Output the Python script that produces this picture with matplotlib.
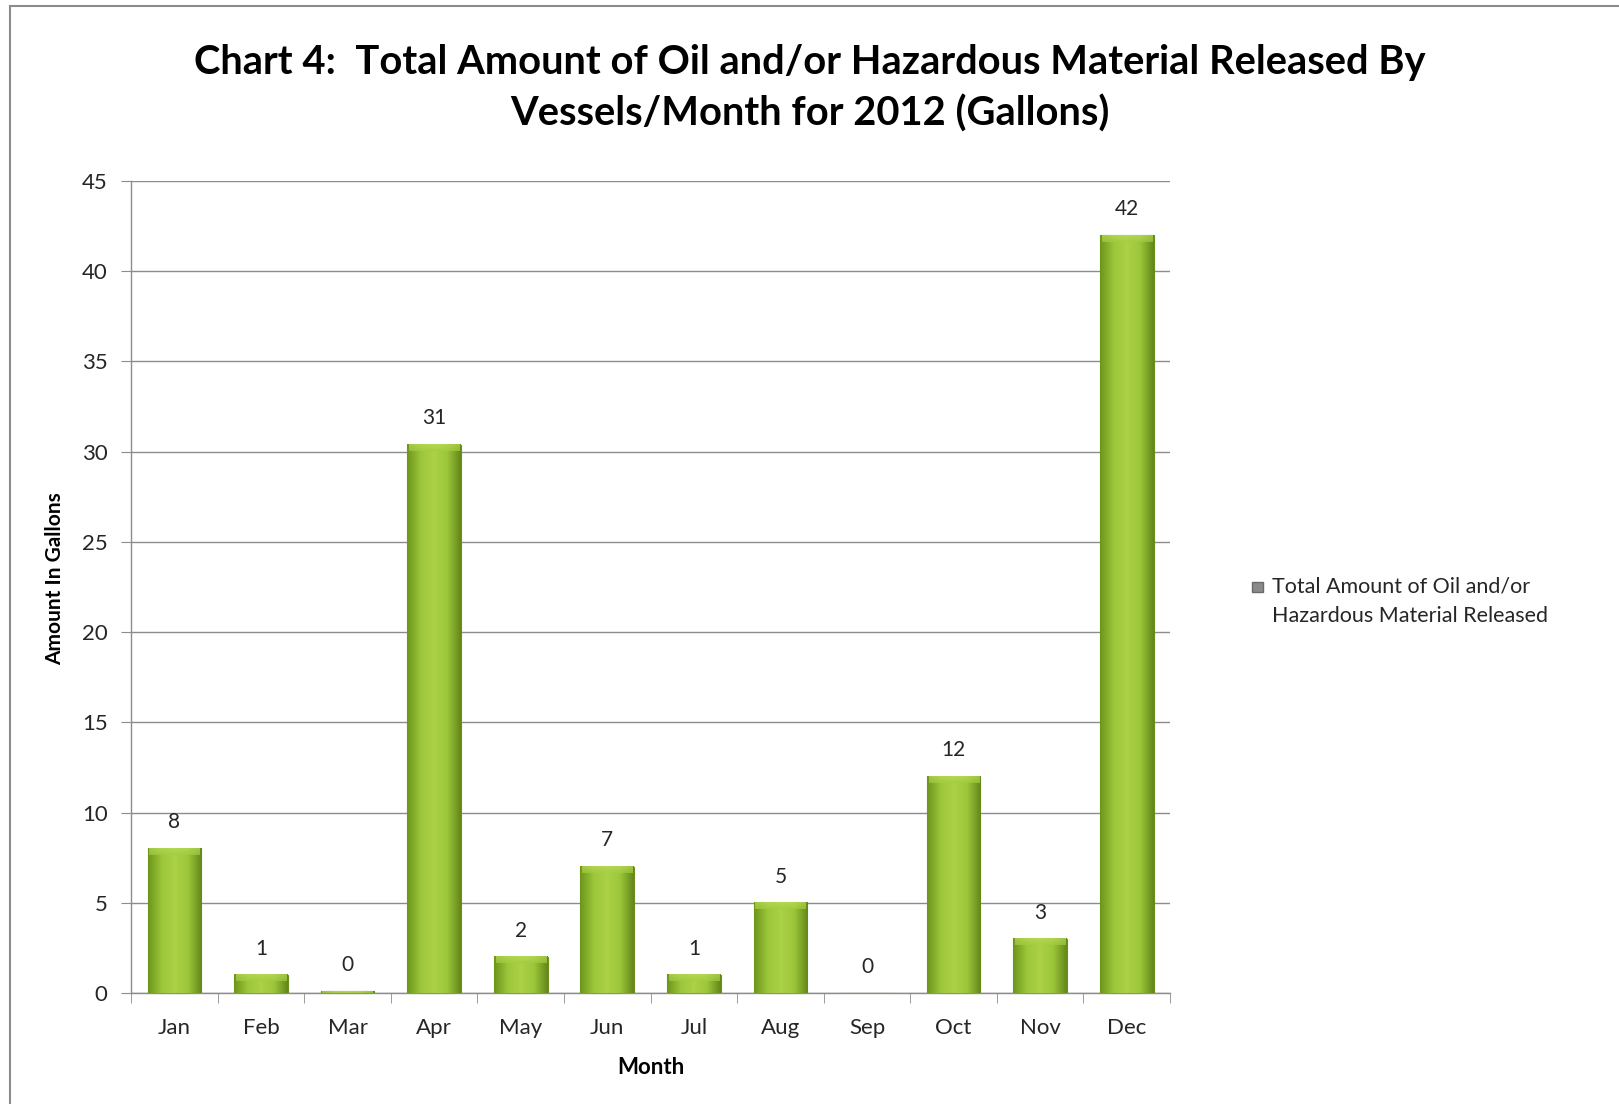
import numpy as np
import matplotlib.pyplot as plt
from matplotlib.patches import Rectangle
from matplotlib.colors import LinearSegmentedColormap

months = ["Jan", "Feb", "Mar", "Apr", "May", "Jun", "Jul", "Aug", "Sep", "Oct", "Nov", "Dec"]
gallons = [8, 1, 0.1, 30.4, 2, 7, 1, 5, 0, 12, 3, 42]
value_labels = ["8", "1", "0", "31", "2", "7", "1", "5", "0", "12", "3", "42"]
yticks = [0, 5, 10, 15, 20, 25, 30, 35, 40, 45]

plt.rcParams["font.family"] = ["Lato", "DejaVu Sans"]

fig = plt.figure(figsize=(16.19, 11.04), dpi=100)
ax = fig.add_axes([0.081, 0.1005, 0.6417, 0.7355])

# frame round the whole chart
fig.patches.append(Rectangle((0.006, -0.05), 1.1, 1.045, transform=fig.transFigure,
                             fill=False, edgecolor="#8c8c8c", linewidth=1.5))

x = np.arange(len(months))
width = 0.62
bars = ax.bar(x, gallons, width=width, color="#92bd30", edgecolor="#6b8f1c", linewidth=0.8, zorder=3)

# horizontal shading: darker edges, lighter middle
shade = LinearSegmentedColormap.from_list("shade", ["#6d961b", "#9cc63a", "#acd247", "#9cc63a", "#64891a"])
grad = np.linspace(0, 1, 64).reshape(1, -1)
cap = LinearSegmentedColormap.from_list("cap", ["#b9dc5a", "#a4cd40"])
for b in bars:
    h = b.get_height()
    if h <= 0:
        continue
    ax.imshow(grad, cmap=shade, aspect="auto", zorder=3.5,
              extent=(b.get_x(), b.get_x() + b.get_width(), 0, h))
    # soft light cap on top
    ax.imshow(np.linspace(0, 1, 16).reshape(-1, 1), cmap=cap, alpha=0.7,
              aspect="auto", zorder=3.6,
              extent=(b.get_x() + 0.02, b.get_x() + b.get_width() - 0.02, max(h - 0.35, 0), h))

for xi, v, lab in zip(x, gallons, value_labels):
    ax.text(xi, v + 0.9, lab, ha="center", va="bottom", fontsize=15, color="#262626")

ax.set_xlim(-0.5, 11.5)
ax.set_ylim(0, 45)
ax.set_yticks(yticks)
ax.set_xticks(x)
ax.set_xticklabels(months)
ax.set_xticks(np.arange(-0.5, 12, 1), minor=True)
ax.tick_params(axis="x", which="major", length=0, pad=18, labelsize=16, colors="#262626")
ax.tick_params(axis="x", which="minor", length=7, color="#8c8c8c", direction="out")
ax.tick_params(axis="y", length=7, color="#8c8c8c", pad=10, labelsize=16, labelcolor="#262626")

ax.grid(axis="y", color="#8c8c8c", linewidth=1.0, zorder=0)
ax.set_axisbelow(True)
for s in ["top", "right"]:
    ax.spines[s].set_visible(False)
for s in ["left", "bottom"]:
    ax.spines[s].set_color("#8c8c8c")
    ax.spines[s].set_linewidth(1.0)

ax.set_xlabel("Month", fontsize=16, fontweight="bold", labelpad=14)
ax.set_ylabel("Amount In Gallons", fontsize=15, fontweight="bold")
ax.yaxis.set_label_coords(-0.064, 0.51)

fig.text(0.50, 0.943, "Chart 4:  Total Amount of Oil and/or Hazardous Material Released By",
         ha="center", va="center", fontsize=28.7, fontweight="bold")
fig.text(0.50, 0.897, "Vessels/Month for 2012 (Gallons)",
         ha="center", va="center", fontsize=28.7, fontweight="bold")

# legend
fig.patches.append(Rectangle((0.7735, 0.4635), 0.0065, 0.0095, transform=fig.transFigure,
                             facecolor="#8a8a8a", edgecolor="#6a6a6a"))
fig.text(0.7855, 0.455, "Total Amount of Oil and/or\nHazardous Material Released",
         ha="left", va="center", fontsize=15.5, color="#262626", linespacing=1.6)

fig.savefig("out.png", dpi=100, facecolor="white")
